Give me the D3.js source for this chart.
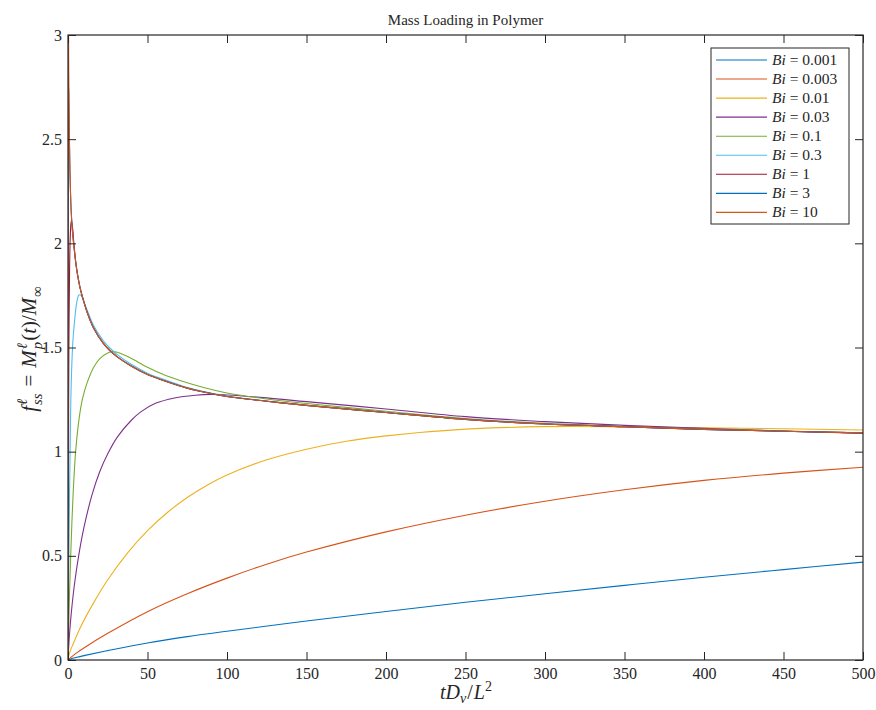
<!DOCTYPE html>
<html>
<head>
<meta charset="utf-8">
<script src="https://cdn.jsdelivr.net/npm/d3@7"></script>
<style>
  html, body { margin: 0; padding: 0; background: #fff; }
  svg { display: block; }
  text { font-family: "Liberation Serif", "DejaVu Serif", serif; fill: #262626; white-space: pre; }
</style>
</head>
<body>
<svg id="chart" width="876" height="710"></svg>
<script>
// Mass loading curves f(t) = M_p(t)/M_inf for several Biot numbers, as [t, f] pairs
const bi0001 = [[0,0],[2,0.006],[5,0.012],[10,0.021],[25,0.045],[50,0.082],[75,0.112],[100,0.138],[150,0.187],[200,0.233],[250,0.277],[300,0.318],[350,0.358],[400,0.397],[450,0.434],[500,0.47]];
const bi0003 = [[0,0],[2,0.014],[5,0.032],[10,0.058],[25,0.128],[50,0.232],[75,0.318],[100,0.393],[125,0.46],[150,0.518],[200,0.615],[250,0.695],[300,0.762],[350,0.817],[400,0.862],[450,0.897],[500,0.925]];
const bi001 = [[0,0],[1,0.035],[3.4,0.08],[8,0.16],[16,0.273],[25,0.385],[37.5,0.5145],[50,0.621],[62.5,0.708],[75,0.78],[87.5,0.839],[100,0.888],[125,0.961],[150,1.012],[175,1.05],[200,1.076],[250,1.108],[300,1.12],[350,1.119],[400,1.115],[450,1.11],[500,1.104]];
const bi003 = [[0,0],[0.5,0.07],[1,0.13],[2,0.22],[4,0.36],[6.7,0.5],[10,0.635],[15,0.79],[20,0.905],[25,0.99],[31,1.07],[40,1.152],[46,1.192],[55,1.232],[67,1.258],[80,1.271],[90,1.275],[100,1.272],[125,1.258],[150,1.24],[200,1.205],[250,1.168],[300,1.144],[350,1.126],[400,1.112],[450,1.099],[500,1.088]];
const bi01 = [[0,0],[0.5,0.18],[1,0.33],[1.7,0.5],[3,0.76],[4.8,1.0],[7,1.16],[9,1.25],[12,1.33],[16,1.403],[20,1.447],[25,1.474],[28,1.48],[31,1.477],[35,1.465],[40,1.447],[50,1.405],[60,1.37],[70,1.343],[83,1.313],[100,1.282],[125,1.253],[150,1.231],[200,1.194],[250,1.159],[300,1.136],[350,1.121],[400,1.108],[450,1.099],[500,1.091]];
const bi03 = [[0,0],[0.5,0.45],[1,0.82],[1.5,1.1],[2,1.32],[3,1.52],[3.8,1.6],[5,1.69],[6,1.735],[6.9,1.752],[8,1.752],[9,1.74],[12,1.68],[16,1.607],[22,1.535],[26,1.5],[31,1.466],[40,1.418],[50,1.377],[60,1.347],[75,1.308],[100,1.267],[125,1.243],[150,1.223],[200,1.189],[250,1.156],[300,1.134],[350,1.12],[400,1.107],[450,1.098],[500,1.09]];
const bi1 = [[0,0],[0.2,0.7],[0.4,1.2],[0.6,1.55],[1,1.88],[1.5,2.05],[2.1,2.11],[2.8,2.08],[3.8,1.99],[5,1.902],[6,1.85],[7.5,1.79],[9,1.745],[12,1.67],[16,1.595],[22,1.522],[26,1.488],[31,1.455],[40,1.41],[50,1.37],[60,1.342],[75,1.305],[83,1.29],[100,1.265],[125,1.242],[150,1.222],[200,1.188],[250,1.155],[300,1.133],[350,1.12],[400,1.107],[450,1.098],[500,1.09]];
const bi3 = [[0,0],[0.05,1.2],[0.1,1.9],[0.2,2.5],[0.3,2.72],[0.4,2.75],[0.5,2.72],[0.8,2.54],[1.2,2.355],[1.6,2.238],[2.1,2.14],[3,2.04],[3.8,1.98],[5,1.9],[6,1.85],[7.5,1.79],[9,1.745],[12,1.67],[16,1.595],[22,1.522],[26,1.488],[31,1.455],[40,1.41],[50,1.37],[60,1.342],[75,1.305],[83,1.29],[100,1.265],[125,1.242],[150,1.222],[200,1.188],[250,1.155],[300,1.133],[350,1.12],[400,1.107],[450,1.098],[500,1.09]];
const bi10 = [[0,0],[0.01,1.2],[0.03,2.6],[0.06,3.4],[0.12,3.6],[0.2,3.4],[0.35,3.0],[0.5,2.8],[0.8,2.55],[1.2,2.36],[1.6,2.24],[2.1,2.14],[3,2.04],[3.8,1.98],[5,1.9],[6,1.85],[7.5,1.79],[9,1.745],[12,1.67],[16,1.595],[22,1.522],[26,1.488],[31,1.455],[40,1.41],[50,1.37],[60,1.342],[75,1.305],[83,1.29],[100,1.265],[125,1.242],[150,1.222],[200,1.188],[250,1.155],[300,1.133],[350,1.12],[400,1.107],[450,1.098],[500,1.09]];

const biLabels = ["0.001","0.003","0.01","0.03","0.1","0.3","1","3","10"];
const seriesData = [bi0001, bi0003, bi001, bi003, bi01, bi03, bi1, bi3, bi10];
const colors = ["#0072BD","#D95319","#EDB120","#7E2F8E","#77AC30","#4DBEEE","#A2142F","#0072BD","#D95319"];

const xTicks = [0,50,100,150,200,250,300,350,400,450,500];
const yTicks = [0,0.5,1,1.5,2,2.5,3];

const plot = {left: 68, right: 863, top: 35, bottom: 660};
const svg = d3.select("#chart");
const axisColor = "#262626";

const x = d3.scaleLinear().domain([0, 500]).range([plot.left, plot.right]);
const y = d3.scaleLinear().domain([0, 3]).range([plot.bottom, plot.top]);

svg.append("defs").append("clipPath").attr("id", "plotClip")
  .append("rect")
  .attr("x", plot.left).attr("y", plot.top)
  .attr("width", plot.right - plot.left).attr("height", plot.bottom - plot.top);

// curves
const line = d3.line().x(d => x(d[0])).y(d => y(d[1])).curve(d3.curveCatmullRom.alpha(0.5));
const curves = svg.append("g").attr("clip-path", "url(#plotClip)");
seriesData.forEach((s, i) => {
  curves.append("path")
    .attr("d", line(s))
    .attr("fill", "none")
    .attr("stroke", colors[i])
    .attr("stroke-width", 1.1)
    .attr("stroke-linejoin", "round");
});

// axes with inward ticks on all four sides
const tickLen = 8;
const fontSize = 16;
const bottomAxis = d3.axisBottom(x).tickValues(xTicks).tickSizeInner(-tickLen).tickSizeOuter(0).tickPadding(8).tickFormat(d3.format("d"));
const topAxis = d3.axisTop(x).tickValues(xTicks).tickSizeInner(-tickLen).tickSizeOuter(0).tickFormat("");
const leftAxis = d3.axisLeft(y).tickValues(yTicks).tickSizeInner(-tickLen).tickSizeOuter(0).tickPadding(6).tickFormat(d => String(d));
const rightAxis = d3.axisRight(y).tickValues(yTicks).tickSizeInner(-tickLen).tickSizeOuter(0).tickFormat("");

function styleAxis(g) {
  g.select(".domain").remove();
  g.selectAll(".tick line").attr("stroke", axisColor).attr("stroke-width", 1);
  g.selectAll(".tick text").attr("font-family", "Liberation Serif, serif").attr("font-size", fontSize).attr("fill", axisColor);
}
svg.append("g").attr("transform", `translate(0,${plot.bottom})`).call(bottomAxis).call(styleAxis);
svg.append("g").attr("transform", `translate(0,${plot.top})`).call(topAxis).call(styleAxis);
svg.append("g").attr("transform", `translate(${plot.left},0)`).call(leftAxis).call(styleAxis);
svg.append("g").attr("transform", `translate(${plot.right},0)`).call(rightAxis).call(styleAxis);

svg.append("rect")
  .attr("x", plot.left).attr("y", plot.top)
  .attr("width", plot.right - plot.left).attr("height", plot.bottom - plot.top)
  .attr("fill", "none").attr("stroke", axisColor).attr("stroke-width", 1.2);

// title
svg.append("text")
  .attr("x", (plot.left + plot.right) / 2).attr("y", 25)
  .attr("text-anchor", "middle").attr("font-size", 15)
  .text("Mass Loading in Polymer");

// math-style label: sequence of pieces laid out left to right, then centred
function mathLabel(g, pieces, size) {
  let cx = 0;
  pieces.forEach(p => {
    cx += (p.pre || 0);
    if (p.t !== undefined) {
      const t = g.append("text").attr("x", cx).attr("y", 0).attr("font-size", size)
        .attr("font-style", p.it ? "italic" : "normal").text(p.t);
      cx += t.node().getComputedTextLength() + (p.gap || 0);
    } else {
      let w = 0;
      if (p.sup) {
        const s = g.append("text").attr("x", cx).attr("y", -size * 0.42).attr("font-size", size * 0.7)
          .attr("font-style", p.supIt === false ? "normal" : "italic").text(p.sup);
        w = Math.max(w, s.node().getComputedTextLength());
      }
      if (p.sub) {
        const s = g.append("text").attr("x", cx).attr("y", size * (p.subDrop || 0.3)).attr("font-size", size * 0.7)
          .attr("font-style", p.subIt === false ? "normal" : "italic").text(p.sub);
        w = Math.max(w, s.node().getComputedTextLength());
      }
      cx += w + (p.gap || 1);
    }
  });
  g.selectAll("text").attr("x", function() { return +d3.select(this).attr("x") - cx / 2; });
}

const xl = svg.append("g").attr("transform", `translate(${(plot.left + plot.right) / 2 + 1},699)`);
mathLabel(xl, [
  {t: "tD", it: true}, {sub: "v", subDrop: 0.22}, {t: "/", it: false, gap: 1}, {t: "L", it: true}, {sup: "2", supIt: false}
], 20);

const yl = svg.append("g").attr("transform", `translate(36,${(plot.top + plot.bottom) / 2 + 1}) rotate(-90)`);
mathLabel(yl, [
  {t: "f", it: true, gap: 1}, {sup: "\u2113", sub: "ss", gap: 7}, {t: "=", it: false, gap: 7},
  {t: "M", it: true, gap: 1}, {sup: "\u2113", sub: "p"}, {t: "(", it: false}, {t: "t", it: true}, {t: ")/", it: false},
  {t: "M", it: true, gap: 1}, {sub: "\u221E", subIt: false}
], 21);

// legend
const lg = {x: 711, y: 48, w: 138, h: 176, row: 19.05};
const legend = svg.append("g");
legend.append("rect").attr("x", lg.x).attr("y", lg.y).attr("width", lg.w).attr("height", lg.h)
  .attr("fill", "#fff").attr("stroke", axisColor).attr("stroke-width", 1);
biLabels.forEach((b, i) => {
  const cy = lg.y + 12 + i * lg.row;
  legend.append("line").attr("x1", lg.x + 5).attr("x2", lg.x + 56).attr("y1", cy).attr("y2", cy)
    .attr("stroke", colors[i]).attr("stroke-width", 1.1);
  const t = legend.append("text").attr("x", lg.x + 61).attr("y", cy + 5).attr("font-size", 15.5);
  t.append("tspan").attr("font-style", "italic").text("Bi");
  t.append("tspan").text(" = " + b);
});
</script>
</body>
</html>
